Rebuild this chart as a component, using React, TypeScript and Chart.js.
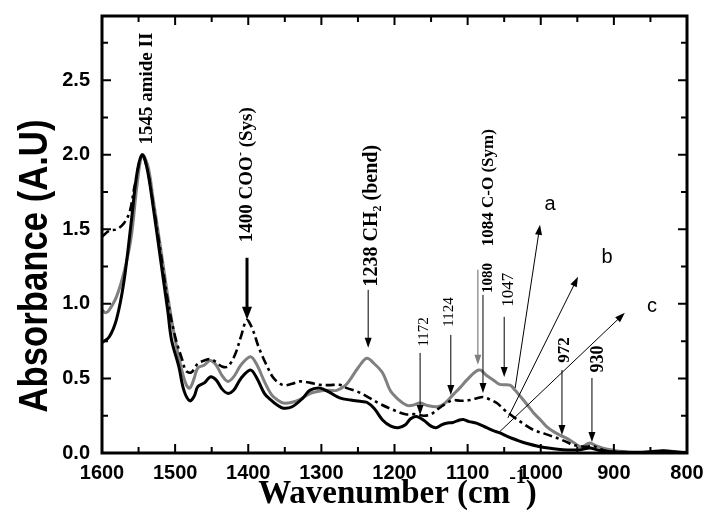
import React, { useEffect, useRef } from "react";
import { Chart, registerables } from "chart.js";

Chart.register(...registerables);

// ---- Data ----
// Curve a (grey solid)
const waveA = [1600, 1595, 1590, 1580, 1569, 1560, 1552, 1545, 1537, 1530, 1520, 1510, 1500, 1492, 1485, 1480, 1474, 1469, 1460, 1452, 1444, 1436, 1428, 1420, 1410, 1397, 1388, 1378, 1368, 1360, 1352, 1340, 1329, 1315, 1302, 1290, 1279, 1268, 1261, 1250, 1238, 1228, 1216, 1206, 1195, 1183, 1175, 1165, 1156, 1142, 1132, 1120, 1110, 1101, 1088, 1082, 1074, 1065, 1056, 1042, 1035, 1028, 1018, 1010, 1000, 992, 983, 974, 965, 955, 946, 940, 933, 925, 915, 900, 888, 860, 840, 830, 815, 800];
const absA = [0.96, 0.94, 0.96, 1.05, 1.23, 1.45, 1.8, 2.0, 1.92, 1.7, 1.38, 1.05, 0.76, 0.58, 0.46, 0.435, 0.5, 0.57, 0.59, 0.62, 0.59, 0.52, 0.48, 0.51, 0.59, 0.646, 0.59, 0.48, 0.39, 0.355, 0.335, 0.34, 0.36, 0.4, 0.415, 0.42, 0.42, 0.45, 0.49, 0.57, 0.635, 0.6, 0.535, 0.42, 0.36, 0.32, 0.32, 0.335, 0.32, 0.31, 0.33, 0.39, 0.44, 0.49, 0.55, 0.555, 0.52, 0.49, 0.46, 0.455, 0.42, 0.38, 0.32, 0.27, 0.22, 0.177, 0.145, 0.12, 0.1, 0.07, 0.042, 0.05, 0.067, 0.05, 0.033, 0.018, 0.01, 0.006, 0.01, 0.015, 0.008, 0.004];

// Curve b (black dash-dot)
const waveB = [1600, 1590, 1580, 1570, 1562, 1555, 1545, 1538, 1530, 1520, 1510, 1500, 1490, 1485, 1478, 1469, 1460, 1452, 1444, 1436, 1428, 1418, 1410, 1402, 1395, 1385, 1375, 1365, 1352, 1340, 1329, 1315, 1302, 1290, 1275, 1265, 1250, 1238, 1220, 1202, 1185, 1172, 1160, 1150, 1142, 1130, 1120, 1110, 1097, 1085, 1079, 1070, 1060, 1050, 1038, 1025, 1010, 995, 983, 971, 963, 956, 945, 937, 930, 915, 900, 870, 850, 833, 815, 800];
const absB = [1.45, 1.49, 1.5, 1.54, 1.62, 1.8, 2.0, 1.9, 1.67, 1.35, 1.02, 0.78, 0.62, 0.55, 0.54, 0.6, 0.62, 0.63, 0.61, 0.58, 0.58, 0.66, 0.78, 0.89, 0.84, 0.7, 0.59, 0.5, 0.455, 0.465, 0.48, 0.47, 0.457, 0.455, 0.457, 0.435, 0.41, 0.38, 0.33, 0.29, 0.26, 0.26, 0.25, 0.26, 0.29, 0.33, 0.355, 0.35, 0.355, 0.37, 0.375, 0.36, 0.335, 0.29, 0.245, 0.2, 0.155, 0.13, 0.11, 0.087, 0.07, 0.054, 0.045, 0.042, 0.05, 0.02, 0.008, 0.004, 0.006, 0.012, 0.006, 0.003];

// Curve c (black solid)
const waveC = [1600, 1590, 1580, 1570, 1560, 1552, 1545, 1538, 1530, 1520, 1510, 1505, 1495, 1488, 1480, 1474, 1469, 1460, 1452, 1444, 1436, 1428, 1420, 1410, 1397, 1388, 1378, 1370, 1360, 1352, 1340, 1325, 1316, 1302, 1290, 1275, 1260, 1245, 1238, 1228, 1216, 1205, 1195, 1185, 1178, 1170, 1160, 1150, 1143, 1135, 1129, 1120, 1112, 1106, 1098, 1088, 1074, 1065, 1056, 1045, 1033, 1020, 1001, 985, 970, 956, 945, 933, 922, 910, 890, 870, 850, 833, 820, 800];
const absC = [0.74, 0.78, 0.9, 1.15, 1.55, 1.88, 2.0, 1.9, 1.65, 1.3, 0.95, 0.76, 0.58, 0.42, 0.35, 0.38, 0.445, 0.47, 0.51, 0.49, 0.43, 0.4, 0.42, 0.5, 0.557, 0.5, 0.4, 0.36, 0.32, 0.3, 0.31, 0.37, 0.42, 0.435, 0.41, 0.37, 0.355, 0.345, 0.34, 0.3, 0.22, 0.18, 0.17, 0.19, 0.23, 0.245, 0.22, 0.18, 0.17, 0.19, 0.2, 0.205, 0.22, 0.225, 0.21, 0.2, 0.17, 0.15, 0.135, 0.11, 0.087, 0.065, 0.042, 0.03, 0.022, 0.02, 0.022, 0.033, 0.02, 0.01, 0.005, 0.003, 0.008, 0.015, 0.008, 0.002];

// Axis ticks
const xMajorTicks = [1600, 1500, 1400, 1300, 1200, 1100, 1000, 900, 800];
const xMinorTicks = [1550, 1450, 1350, 1250, 1150, 1050, 950, 850];
const yMajorTicks = [0, 0.5, 1.0, 1.5, 2.0, 2.5];
const yMinorTicks = [0.25, 0.75, 1.25, 1.75, 2.25, 2.75];

const GREY = "#808080";
const SERIF = "'Liberation Serif', 'Times New Roman', serif";
const SANS = "'Liberation Sans', Arial, sans-serif";

type Seg = { t: string; size: number; bold?: boolean; dy?: number; dx?: number };

// Peak labels (vertical text), in data coordinates
const peakLabels: { x: number; y: number; segs: Seg[] }[] = [
  { x: 1540, y: 2.443, segs: [{ t: "1545 amide II", size: 19, bold: true }] },
  {
    x: 1404, y: 1.866, segs: [
      { t: "1400 COO", size: 19, bold: true },
      { t: "-", size: 12, bold: true, dy: -8 },
      { t: " (Sys)", size: 19, bold: true },
    ],
  },
  {
    x: 1233.5, y: 1.591, segs: [
      { t: "1238 CH", size: 20, bold: true },
      { t: "2", size: 12, bold: true, dy: 4 },
      { t: " (bend)", size: 20, bold: true },
    ],
  },
  { x: 1073.5, y: 1.779, segs: [{ t: "1084 C-O (Sym)", size: 17, bold: true }] },
  { x: 1073.5, y: 1.174, segs: [{ t: "1080", size: 15, bold: true }] },
  { x: 1046, y: 1.094, segs: [{ t: "1047", size: 17 }] },
  { x: 1161, y: 0.812, segs: [{ t: "1172", size: 15 }] },
  { x: 1127, y: 0.946, segs: [{ t: "1124", size: 15 }] },
  { x: 969.6, y: 0.691, segs: [{ t: "972", size: 17, bold: true }] },
  { x: 923, y: 0.631, segs: [{ t: "930", size: 18, bold: true }] },
];

// Arrows: from (x1,y1) to tip (x2,y2), in data coordinates
const arrows = [
  { x1: 1401.7, y1: 1.309, x2: 1401.7, y2: 0.893, w: 3, head: 13, hw: 5, color: "#000" },
  { x1: 1236, y1: 1.094, x2: 1236, y2: 0.705, w: 1, head: 10, hw: 3.5, color: "#000" },
  { x1: 1086, y1: 1.228, x2: 1086, y2: 0.591, w: 1.2, head: 10, hw: 3.5, color: GREY },
  { x1: 1079, y1: 1.06, x2: 1079, y2: 0.403, w: 1, head: 10, hw: 3.5, color: "#000" },
  { x1: 1050, y1: 0.913, x2: 1050, y2: 0.51, w: 1, head: 10, hw: 3.5, color: "#000" },
  { x1: 1165, y1: 0.671, x2: 1165, y2: 0.255, w: 1, head: 10, hw: 3.5, color: "#000" },
  { x1: 1123, y1: 0.792, x2: 1123, y2: 0.389, w: 1, head: 10, hw: 3.5, color: "#000" },
  { x1: 971, y1: 0.557, x2: 971, y2: 0.121, w: 1, head: 10, hw: 3.5, color: "#000" },
  { x1: 930, y1: 0.503, x2: 930, y2: 0.074, w: 1, head: 10, hw: 3.5, color: "#000" },
  { x1: 1035, y1: 0.436, x2: 1001, y2: 1.53, w: 1, head: 10, hw: 3.5, color: "#000" },
  { x1: 1045, y1: 0.235, x2: 949, y2: 1.181, w: 1, head: 10, hw: 3.5, color: "#000" },
  { x1: 1058, y1: 0.134, x2: 885, y2: 0.94, w: 1, head: 10, hw: 3.5, color: "#000" },
];

const curveLabels = [
  { t: "a", x: 987.4, y: 1.664 },
  { t: "b", x: 909.4, y: 1.309 },
  { t: "c", x: 847.9, y: 0.98 },
];

function segFont(s: Seg, family: string) {
  return `${s.bold ? "bold " : ""}${s.size}px ${family}`;
}

function drawRich(
  ctx: CanvasRenderingContext2D,
  segs: Seg[],
  cx: number,
  cy: number,
  family: string,
  rotate: boolean,
  baselineShift: number,
  sx = 1
) {
  ctx.save();
  ctx.translate(cx, cy);
  if (rotate) ctx.rotate(-Math.PI / 2);
  ctx.scale(sx, 1);
  ctx.textBaseline = "alphabetic";
  ctx.textAlign = "left";
  const widths = segs.map((s) => {
    ctx.font = segFont(s, family);
    return ctx.measureText(s.t).width + (s.dx || 0);
  });
  const total = widths.reduce((a, b) => a + b, 0);
  let x = -total / 2;
  segs.forEach((s, i) => {
    ctx.font = segFont(s, family);
    ctx.fillText(s.t, x + (s.dx || 0), baselineShift + (s.dy || 0));
    x += widths[i];
  });
  ctx.restore();
}

function drawArrow(
  ctx: CanvasRenderingContext2D,
  x1: number, y1: number, x2: number, y2: number,
  w: number, head: number, hw: number, color: string
) {
  const ang = Math.atan2(y2 - y1, x2 - x1);
  const bx = x2 - Math.cos(ang) * head;
  const by = y2 - Math.sin(ang) * head;
  ctx.save();
  ctx.strokeStyle = color;
  ctx.fillStyle = color;
  ctx.lineWidth = w;
  ctx.beginPath();
  ctx.moveTo(x1, y1);
  ctx.lineTo(bx + Math.cos(ang) * 2, by + Math.sin(ang) * 2);
  ctx.stroke();
  ctx.beginPath();
  ctx.moveTo(x2, y2);
  ctx.lineTo(bx + Math.sin(ang) * hw, by - Math.cos(ang) * hw);
  ctx.lineTo(bx - Math.sin(ang) * hw, by + Math.cos(ang) * hw);
  ctx.closePath();
  ctx.fill();
  ctx.restore();
}

const annotationPlugin = {
  id: "ftirAnnotations",
  afterDatasetsDraw(chart: any) {
    const ctx: CanvasRenderingContext2D = chart.ctx;
    const xs = chart.scales.x;
    const ys = chart.scales.y;
    ctx.save();
    ctx.fillStyle = "#000";
    peakLabels.forEach((p) => {
      const main = p.segs[0].size;
      drawRich(ctx, p.segs, xs.getPixelForValue(p.x), ys.getPixelForValue(p.y), SERIF, true, main * 0.33);
    });
    arrows.forEach((a) => {
      drawArrow(
        ctx,
        xs.getPixelForValue(a.x1), ys.getPixelForValue(a.y1),
        xs.getPixelForValue(a.x2), ys.getPixelForValue(a.y2),
        a.w, a.head, a.hw, a.color
      );
    });
    ctx.fillStyle = "#000";
    ctx.font = `20px ${SANS}`;
    ctx.textAlign = "center";
    ctx.textBaseline = "middle";
    curveLabels.forEach((l) => {
      ctx.fillText(l.t, xs.getPixelForValue(l.x), ys.getPixelForValue(l.y));
    });
    ctx.restore();
  },
  afterDraw(chart: any) {
    const ctx: CanvasRenderingContext2D = chart.ctx;
    const { left, right, top, bottom } = chart.chartArea;
    const xs = chart.scales.x;
    const ys = chart.scales.y;
    ctx.save();
    ctx.strokeStyle = "#000";
    ctx.lineWidth = 2;
    const maj = 9;
    const min = 6;
    ctx.beginPath();
    const tickX = (v: number, len: number) => {
      const px = xs.getPixelForValue(v);
      ctx.moveTo(px, bottom);
      ctx.lineTo(px, bottom - len);
      ctx.moveTo(px, top);
      ctx.lineTo(px, top + len);
    };
    const tickY = (v: number, len: number) => {
      const py = ys.getPixelForValue(v);
      ctx.moveTo(left, py);
      ctx.lineTo(left + len, py);
      ctx.moveTo(right, py);
      ctx.lineTo(right - len, py);
    };
    xMajorTicks.forEach((v) => tickX(v, maj));
    xMinorTicks.forEach((v) => tickX(v, min));
    yMajorTicks.forEach((v) => tickY(v, maj));
    yMinorTicks.forEach((v) => tickY(v, min));
    ctx.stroke();
    ctx.lineWidth = 3;
    ctx.strokeRect(left, top, right - left, bottom - top);
    ctx.restore();

    // Axis titles
    ctx.save();
    ctx.fillStyle = "#000";
    drawRich(ctx, [{ t: "Absorbance (A.U)", size: 41, bold: true }], 47, 266, SANS, true, 0, 0.846);
    drawRich(
      ctx,
      [
        { t: "Wavenumber (cm", size: 33, bold: true },
        { t: "-1", size: 20, bold: true, dy: -20, dx: -1 },
        { t: ")", size: 33, bold: true },
      ],
      (left + right) / 2 + 3, 503, SERIF, false, 0
    );
    ctx.restore();
  },
};

function toPoints(xs: number[], ys: number[]) {
  return xs.map((x, i) => ({ x, y: ys[i] }));
}

function clearPadding(s: any) {
  s.paddingTop = 0;
  s.paddingBottom = 0;
  s.paddingLeft = 0;
  s.paddingRight = 0;
}

export default function App() {
  const canvasRef = useRef<HTMLCanvasElement | null>(null);

  useEffect(() => {
    if (!canvasRef.current) return;
    const tickFont = { family: SANS, size: 20, weight: "bold" as const };
    const chart = new Chart(canvasRef.current, {
      type: "line",
      data: {
        datasets: [
          {
            label: "c",
            data: toPoints(waveC, absC),
            borderColor: "#000",
            borderWidth: 3,
            pointRadius: 0,
            tension: 0.35,
            fill: false,
          },
          {
            label: "b",
            data: toPoints(waveB, absB),
            borderColor: "#000",
            borderWidth: 2.6,
            borderDash: [9, 4, 3, 4],
            pointRadius: 0,
            tension: 0.35,
            fill: false,
          },
          {
            label: "a",
            data: toPoints(waveA, absA),
            borderColor: GREY,
            borderWidth: 3,
            pointRadius: 0,
            tension: 0.35,
            fill: false,
          },
        ],
      },
      options: {
        responsive: false,
        animation: false,
        devicePixelRatio: 1,
        layout: { padding: { left: 0, right: 19, top: 16, bottom: 0 } },
        plugins: {
          legend: { display: false },
          tooltip: { enabled: false },
          title: { display: false },
        },
        scales: {
          x: {
            type: "linear",
            reverse: true,
            min: 800,
            max: 1600,
            grid: { display: false, drawTicks: false },
            border: { display: false },
            ticks: {
              stepSize: 100,
              autoSkip: false,
              maxRotation: 0,
              includeBounds: false,
              padding: 8,
              color: "#000",
              font: tickFont,
              callback: (v: any) => String(v),
            },
            afterFit: (s: any) => {
              s.height = 71;
              clearPadding(s);
            },
          },
          y: {
            type: "linear",
            min: 0,
            max: 2.93,
            grid: { display: false, drawTicks: false },
            border: { display: false },
            ticks: {
              stepSize: 0.5,
              includeBounds: false,
              padding: 12,
              color: "#000",
              font: tickFont,
              callback: (v: any) => Number(v).toFixed(1),
            },
            afterFit: (s: any) => {
              s.width = 102;
              clearPadding(s);
            },
          },
        },
      },
      plugins: [annotationPlugin],
    });
    return () => chart.destroy();
  }, []);

  return (
    <div style={{ position: "absolute", left: 0, top: 0, width: 706, height: 524, background: "#fff" }}>
      <canvas ref={canvasRef} width={706} height={524} style={{ display: "block" }} />
    </div>
  );
}
